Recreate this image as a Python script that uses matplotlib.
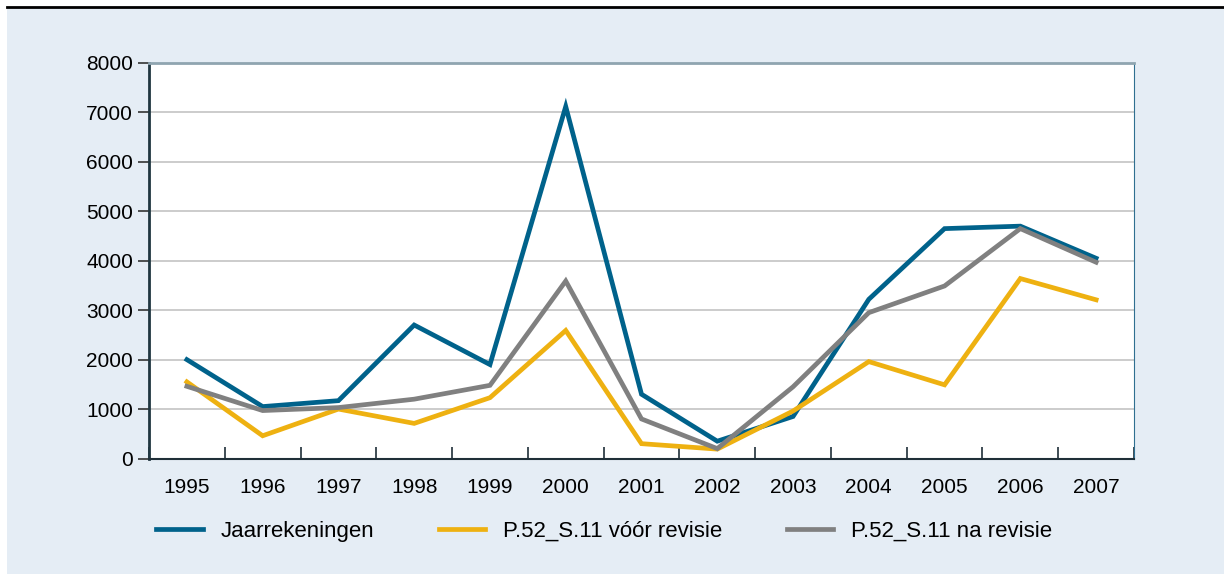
import matplotlib.pyplot as plt
import numpy as np
from matplotlib.patches import Rectangle
from matplotlib.lines import Line2D

plt.rcParams['font.family'] = ['Liberation Sans', 'DejaVu Sans']

# Data
years = ['1995', '1996', '1997', '1998', '1999', '2000', '2001',
         '2002', '2003', '2004', '2005', '2006', '2007']
jaarrekeningen = [2000, 1050, 1170, 2700, 1900, 7120, 1300, 350, 850, 3220, 4650, 4700, 4050]
voor_revisie = [1550, 460, 1000, 710, 1230, 2590, 300, 190, 960, 1960, 1490, 3640, 3210]
na_revisie = [1460, 970, 1030, 1200, 1480, 3590, 800, 200, 1450, 2950, 3490, 4650, 3970]

labels = ['Jaarrekeningen', 'P.52_S.11 vóór revisie', 'P.52_S.11 na revisie']
colors = ['#00628B', '#EEB111', '#808080']

W, H = 1224, 574
fig = plt.figure(figsize=(W / 100, H / 100), dpi=100, facecolor='white')

# light blue panel and black rule at the top
fig.patches.append(Rectangle((7 / W, 0), 1 - 7 / W, 1 - 8 / H, transform=fig.transFigure,
                             facecolor='#E5EDF5', edgecolor='none', zorder=-10))
fig.lines.append(Line2D([7 / W, 1], [1 - 7 / H, 1 - 7 / H], transform=fig.transFigure,
                        color='black', linewidth=2, zorder=-5))

ax = fig.add_axes([149 / W, 1 - 458.5 / H, (1134 - 149) / W, (458.5 - 63) / H])
ax.set_facecolor('white')

x = np.arange(len(years))
for series, lab, col in zip([jaarrekeningen, voor_revisie, na_revisie], labels, colors):
    ax.plot(x, series, color=col, linewidth=3.4, label=lab, solid_joinstyle='miter', zorder=3)

ax.set_xlim(-0.5, len(years) - 0.5)
ax.set_ylim(0, 8000)
ax.set_yticks(np.arange(0, 8001, 1000))
ax.grid(axis='y', color='#C4C4C4', linewidth=1.2)
ax.set_axisbelow(True)

# year labels centred, ticks between categories pointing inward
ax.set_xticks(np.arange(len(years) + 1) - 0.5)
ax.set_xticklabels([])
ax.set_xticks(x, minor=True)
ax.set_xticklabels(years, minor=True)
ax.tick_params(axis='x', which='major', direction='in', length=9, width=1.2, color='#1F2F38')
ax.tick_params(axis='x', which='minor', length=0, pad=14, labelsize=15)
ax.tick_params(axis='y', direction='out', length=8, width=1.2, color='#333333', labelsize=15, pad=3.5)

ax.spines['left'].set_color('#1F3640')
ax.spines['left'].set_linewidth(2)
ax.spines['bottom'].set_color('#1F2F38')
ax.spines['bottom'].set_linewidth(1.5)
ax.spines['top'].set_color('#8FA5B0')
ax.spines['top'].set_linewidth(2)
ax.spines['right'].set_color('#2F6F90')
ax.spines['right'].set_linewidth(0.8)

fig.legend(loc='center left', bbox_to_anchor=(136 / W, 1 - 531 / H), ncol=3, frameon=False,
           fontsize=16, handlelength=2.1, handletextpad=0.8, columnspacing=2.9)

fig.savefig('out.png', dpi=100, facecolor=fig.get_facecolor())
